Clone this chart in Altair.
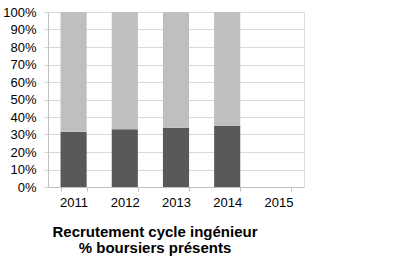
import altair as alt
import pandas as pd

years = ["2011", "2012", "2013", "2014", "2015"]
data_years = ["2011", "2012", "2013", "2014"]
boursiers = [31.6, 33.0, 33.9, 34.9]
autres = [68.4, 67.0, 66.1, 65.1]
series = ["Boursiers", "Autres"]
colors = ["#595959", "#bfbfbf"]

rows = []
for y, b, a in zip(data_years, boursiers, autres):
    rows.append({"annee": y, "serie": series[0], "valeur": b / 100, "ordre": 0})
    rows.append({"annee": y, "serie": series[1], "valeur": a / 100, "ordre": 1})
df = pd.DataFrame(rows)

FONT = "Liberation Sans"

chart = alt.Chart(df).mark_bar(stroke=None).encode(
    x=alt.X("annee:N", scale=alt.Scale(domain=years, paddingInner=0.49, paddingOuter=0.245),
            axis=alt.Axis(title=None, labelAngle=0, labelFontSize=13, labelColor="#000000",
                          labelFont=FONT, tickBand="extent", tickSize=4, tickColor="#bfbfbf",
                          domainColor="#bfbfbf", labelPadding=5, grid=False)),
    y=alt.Y("valeur:Q", stack="zero", scale=alt.Scale(domain=[0, 1], nice=False),
            axis=alt.Axis(title=None, format=".0%", values=[i / 10 for i in range(11)],
                          labelFontSize=13, labelColor="#000000", labelFont=FONT,
                          tickSize=4, tickColor="#d9d9d9", domainColor="#bfbfbf",
                          gridColor="#d9d9d9", labelPadding=8)),
    color=alt.Color("serie:N", scale=alt.Scale(domain=series, range=colors), legend=None),
    order=alt.Order("ordre:Q"),
).properties(
    width=256, height=175,
    autosize=alt.AutoSizeParams(type="none"),
    padding={"left": 48, "top": 12, "right": 104, "bottom": 74},
    title=alt.TitleParams(text=["Recrutement cycle ingénieur", "% boursiers présents"],
                          orient="bottom", anchor="middle", dx=-21, offset=16,
                          fontSize=15, font=FONT, fontWeight="bold", color="#000000",
                          lineHeight=16),
).configure_view(stroke="#d0d0d0").configure(background="white")

chart.save("out.html", embed_options={"renderer": "svg", "actions": False})
